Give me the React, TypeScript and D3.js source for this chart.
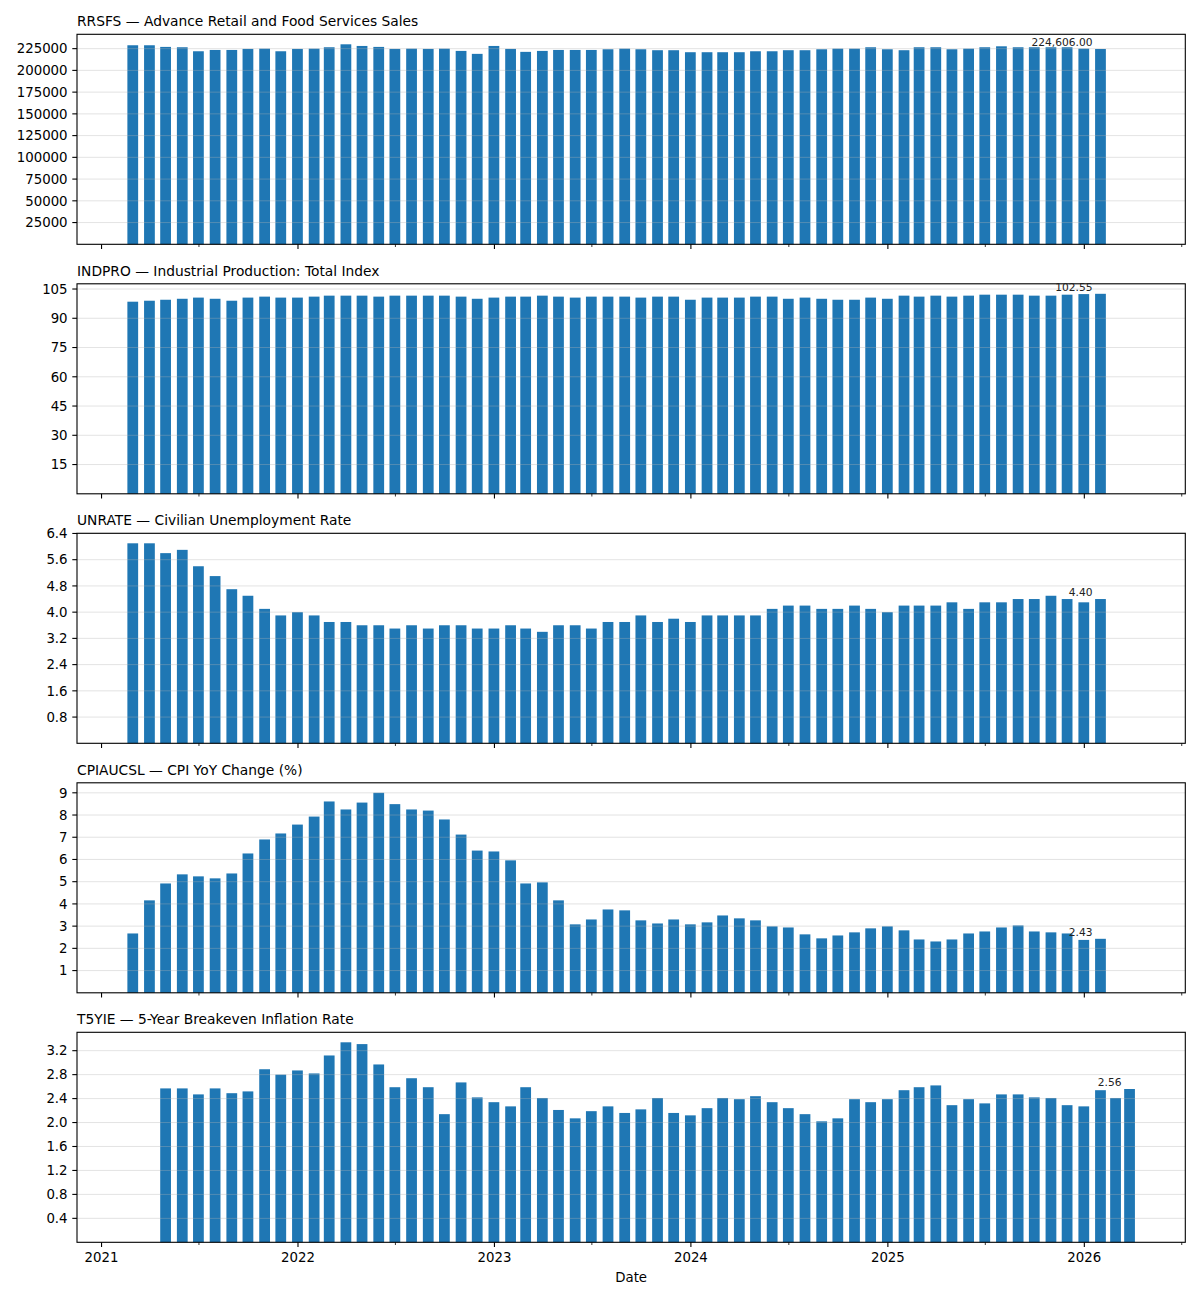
import React, { useRef, useEffect } from 'react';
import * as d3 from 'd3';

// Monthly observations are stamped at month end; T5YIE is a daily series
// averaged by month, its last point is the latest daily reading.
const monthlyFirst = '2021-02-28';
const t5yieFirst = '2021-04-30';
const t5yieLastObs = '2026-03-26';

const seriesTitles = [
  'RRSFS — Advance Retail and Food Services Sales',
  'INDPRO — Industrial Production: Total Index',
  'UNRATE — Civilian Unemployment Rate',
  'CPIAUCSL — CPI YoY Change (%)',
  'T5YIE — 5-Year Breakeven Inflation Rate',
];

const rrsfsValues = [
  228900, 228900, 227000, 226600, 222000, 223500, 223500, 224700, 225000, 222000,
  224700, 225000, 226600, 230000, 228100, 227000, 224700, 225000, 224700, 225000,
  222400, 219000, 228100, 224700, 221300, 222400, 223500, 223500, 223500, 224300,
  225000, 224300, 223200, 223200, 220900, 220900, 220900, 220900, 222000, 222000,
  223200, 223200, 224300, 225000, 225000, 226600, 224300, 223200, 226600, 226600,
  224300, 225000, 226600, 227700, 226600, 226600, 226600, 226600, 225000, 224606,
];

const indproValues = [
  98.5, 99.0, 99.5, 100.0, 100.6, 100.0, 99.0, 100.6, 101.1, 100.6,
  100.6, 101.1, 101.6, 101.6, 101.6, 101.1, 101.6, 101.6, 101.6, 101.6,
  101.1, 100.0, 100.6, 101.1, 101.1, 101.6, 101.1, 100.6, 101.1, 101.1,
  101.1, 100.6, 101.1, 101.1, 99.5, 100.6, 100.6, 100.6, 101.1, 101.1,
  100.0, 100.6, 100.0, 99.5, 99.5, 100.6, 100.0, 101.6, 101.1, 101.6,
  101.1, 101.6, 102.1, 102.1, 102.1, 101.6, 101.6, 102.1, 102.4, 102.55,
];

const unrateValues = [
  6.1, 6.1, 5.8, 5.9, 5.4, 5.1, 4.7, 4.5, 4.1, 3.9,
  4.0, 3.9, 3.7, 3.7, 3.6, 3.6, 3.5, 3.6, 3.5, 3.6,
  3.6, 3.5, 3.5, 3.6, 3.5, 3.4, 3.6, 3.6, 3.5, 3.7,
  3.7, 3.9, 3.7, 3.8, 3.7, 3.9, 3.9, 3.9, 3.9, 4.1,
  4.2, 4.2, 4.1, 4.1, 4.2, 4.1, 4.0, 4.2, 4.2, 4.2,
  4.3, 4.1, 4.3, 4.3, 4.4, 4.4, 4.5, 4.4, 4.3, 4.4,
];

const cpiYoyValues = [
  2.67, 4.16, 4.92, 5.33, 5.24, 5.15, 5.37, 6.27, 6.9, 7.17,
  7.57, 7.93, 8.61, 8.25, 8.56, 9.0, 8.49, 8.25, 8.2, 7.8,
  7.12, 6.4, 6.36, 5.96, 4.92, 4.97, 4.16, 3.08, 3.3, 3.75,
  3.71, 3.26, 3.12, 3.3, 3.08, 3.17, 3.48, 3.35, 3.26, 2.99,
  2.94, 2.63, 2.45, 2.58, 2.72, 2.9, 2.99, 2.81, 2.4, 2.31,
  2.4, 2.67, 2.76, 2.94, 3.03, 2.76, 2.72, 2.67, 2.38, 2.43,
];

const t5yieValues = [
  2.57, 2.57, 2.47, 2.57, 2.49, 2.52, 2.89, 2.8, 2.87, 2.82,
  3.12, 3.34, 3.31, 2.97, 2.59, 2.74, 2.59, 2.14, 2.67, 2.42,
  2.34, 2.27, 2.59, 2.41, 2.21, 2.07, 2.19, 2.27, 2.16, 2.22,
  2.41, 2.16, 2.12, 2.24, 2.41, 2.39, 2.44, 2.34, 2.24, 2.14,
  2.02, 2.07, 2.39, 2.34, 2.39, 2.54, 2.59, 2.62, 2.29, 2.39,
  2.32, 2.47, 2.47, 2.42, 2.41, 2.29, 2.27, 2.54, 2.41, 2.56,
];

const rrsfsTicks = ['25000', '50000', '75000', '100000', '125000', '150000', '175000', '200000', '225000'];
const indproTicks = ['15', '30', '45', '60', '75', '90', '105'];
const unrateTicks = ['0.8', '1.6', '2.4', '3.2', '4.0', '4.8', '5.6', '6.4'];
const cpiTicks = ['1', '2', '3', '4', '5', '6', '7', '8', '9'];
const t5yieTicks = ['0.4', '0.8', '1.2', '1.6', '2.0', '2.4', '2.8', '3.2'];

const yearTicks = ['2021', '2022', '2023', '2024', '2025', '2026'];

const monthEnds = (first: string, n: number) =>
  d3.range(n).map((i) =>
    d3.utcDay.offset(d3.utcMonth.offset(d3.utcMonth.floor(new Date(first)), i + 1), -1)
  );

const App: React.FC = () => {
  const svgRef = useRef<SVGSVGElement>(null);

  useEffect(() => {
    if (!svgRef.current) return;
    const svg = d3.select(svgRef.current);
    svg.selectAll('*').remove();

    const font = 'DejaVu Sans, sans-serif';
    const left = 77;
    const right = 1185.3;
    const firstTop = 34.3;
    const panelStep = 249.5;
    const panelHeight = 210;
    const halfBar = 10; // days either side of the stamp

    const monthlyDates = monthEnds(monthlyFirst, rrsfsValues.length);
    const t5yieDates = [...monthEnds(t5yieFirst, t5yieValues.length - 1), new Date(t5yieLastObs)];

    const panels = [
      { title: seriesTitles[0], dates: monthlyDates, values: rrsfsValues, ticks: rrsfsTicks },
      { title: seriesTitles[1], dates: monthlyDates, values: indproValues, ticks: indproTicks },
      { title: seriesTitles[2], dates: monthlyDates, values: unrateValues, ticks: unrateTicks },
      { title: seriesTitles[3], dates: monthlyDates, values: cpiYoyValues, ticks: cpiTicks },
      { title: seriesTitles[4], dates: t5yieDates, values: t5yieValues, ticks: t5yieTicks },
    ];

    // shared x: bar extents plus 5% margins
    const allDates = panels.flatMap((p) => p.dates);
    const lo = d3.utcDay.offset(d3.min(allDates)!, -halfBar).getTime();
    const hi = d3.utcDay.offset(d3.max(allDates)!, halfBar).getTime();
    const pad = (hi - lo) * 0.05;
    const x = d3
      .scaleUtc()
      .domain([new Date(lo - pad), new Date(hi + pad)])
      .range([left, right]);

    const majorDates = yearTicks.map((yr) => new Date(Date.UTC(+yr, 0, 1)));
    const minorDates = yearTicks
      .map((yr) => new Date(Date.UTC(+yr, 6, 1)))
      .filter((d) => x(d) <= right);

    const fmt = d3.format(',.2f');

    panels.forEach((p, i) => {
      const top = firstTop + i * panelStep;
      const bottom = top + panelHeight;
      const y = d3
        .scaleLinear()
        .domain([0, d3.max(p.values)! * 1.05])
        .range([bottom, top]);

      const g = svg.append('g');
      const rows = p.values.map((v, j) => ({ date: p.dates[j], v }));

      g.selectAll('.bar')
        .data(rows)
        .enter()
        .append('rect')
        .attr('class', 'bar')
        .attr('x', (d) => x(d3.utcDay.offset(d.date, -halfBar)))
        .attr('width', (d) => x(d3.utcDay.offset(d.date, halfBar)) - x(d3.utcDay.offset(d.date, -halfBar)))
        .attr('y', (d) => y(d.v))
        .attr('height', (d) => bottom - y(d.v))
        .attr('fill', '#1f77b4');

      // horizontal grid sits over the bars
      g.selectAll('.grid')
        .data(p.ticks)
        .enter()
        .append('line')
        .attr('class', 'grid')
        .attr('x1', left)
        .attr('x2', right)
        .attr('y1', (t) => y(+t))
        .attr('y2', (t) => y(+t))
        .attr('stroke', '#b0b0b0')
        .attr('stroke-opacity', 0.45)
        .attr('stroke-width', 0.8);

      g.append('rect')
        .attr('x', left)
        .attr('y', top)
        .attr('width', right - left)
        .attr('height', panelHeight)
        .attr('fill', 'none')
        .attr('stroke', '#000')
        .attr('stroke-width', 1.1);

      // y ticks
      g.selectAll('.ytick')
        .data(p.ticks)
        .enter()
        .append('line')
        .attr('x1', left - 4.7)
        .attr('x2', left)
        .attr('y1', (t) => y(+t))
        .attr('y2', (t) => y(+t))
        .attr('stroke', '#000')
        .attr('stroke-width', 1.1);

      g.selectAll('.ylabel')
        .data(p.ticks)
        .enter()
        .append('text')
        .attr('x', left - 9.4)
        .attr('y', (t) => y(+t))
        .attr('dy', '0.36em')
        .attr('text-anchor', 'end')
        .attr('font-family', font)
        .attr('font-size', '13.33px')
        .attr('fill', '#000')
        .text((t) => t);

      // x ticks on every panel
      g.selectAll('.xmajor')
        .data(majorDates)
        .enter()
        .append('line')
        .attr('x1', (d) => x(d))
        .attr('x2', (d) => x(d))
        .attr('y1', bottom)
        .attr('y2', bottom + 4.7)
        .attr('stroke', '#000')
        .attr('stroke-width', 1.1);

      g.selectAll('.xminor')
        .data(minorDates)
        .enter()
        .append('line')
        .attr('x1', (d) => x(d))
        .attr('x2', (d) => x(d))
        .attr('y1', bottom)
        .attr('y2', bottom + 2.7)
        .attr('stroke', '#000')
        .attr('stroke-width', 0.8);

      g.append('text')
        .attr('x', left)
        .attr('y', top - 8.3)
        .attr('font-family', font)
        .attr('font-size', '13.8px')
        .attr('fill', '#000')
        .text(p.title);

      const last = rows[rows.length - 1];
      g.append('text')
        .attr('x', x(last.date) - 8)
        .attr('y', y(last.v) - 3)
        .attr('text-anchor', 'end')
        .attr('font-family', font)
        .attr('font-size', '10.67px')
        .attr('fill', '#222')
        .text(fmt(last.v));

      if (i === panels.length - 1) {
        g.selectAll('.xlabel')
          .data(majorDates)
          .enter()
          .append('text')
          .attr('x', (d) => x(d))
          .attr('y', bottom + 19.5)
          .attr('text-anchor', 'middle')
          .attr('font-family', font)
          .attr('font-size', '13.33px')
          .attr('fill', '#000')
          .text((d, k) => yearTicks[k]);

        g.append('text')
          .attr('x', (left + right) / 2)
          .attr('y', bottom + 39.7)
          .attr('text-anchor', 'middle')
          .attr('font-family', font)
          .attr('font-size', '13.33px')
          .attr('fill', '#000')
          .text('Date');
      }
    });
  }, []);

  return (
    <svg
      ref={svgRef}
      width={1200}
      height={1300}
      style={{ position: 'absolute', left: 0, top: 0, background: '#fff' }}
    />
  );
};

export default App;
